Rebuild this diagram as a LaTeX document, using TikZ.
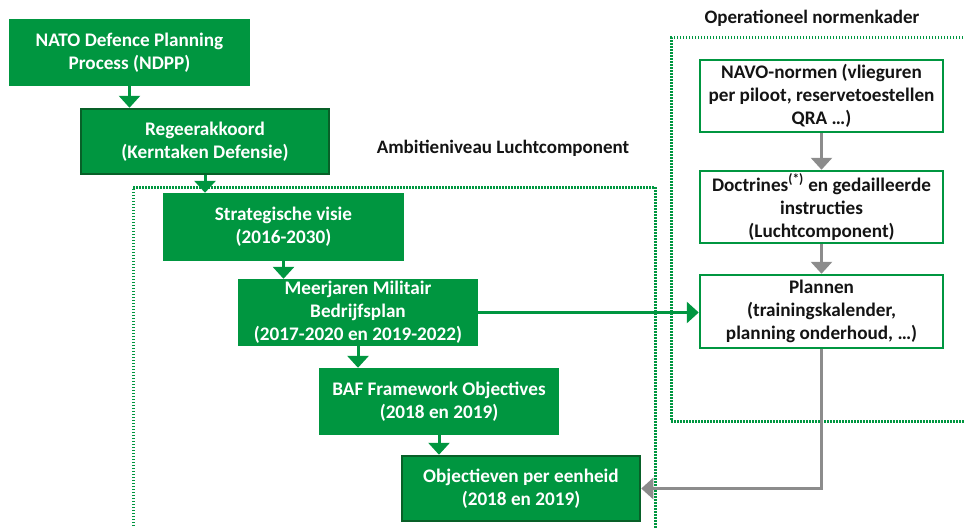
\documentclass[tikz,border=0pt]{standalone}
\usepackage{fontspec}
\setmainfont{Carlito}
\usetikzlibrary{arrows.meta}
\definecolor{cgreen}{RGB}{0,150,64}
\definecolor{cdark}{RGB}{8,96,40}
\definecolor{cgray}{RGB}{140,140,140}
\definecolor{ctext}{RGB}{20,20,20}
\tikzset{
  gbox/.style={rectangle, fill=cgreen, text=white, align=center, inner sep=0pt,
    font=\bfseries\fontsize{19.2}{23}\selectfont},
  dbox/.style={gbox, draw=cdark, line width=2.5pt},
  wbox/.style={rectangle, fill=white, draw=cgreen, line width=2.5pt, text=ctext, align=center, inner sep=0pt,
    font=\bfseries\fontsize{19.2}{23}\selectfont},
  garrow/.style={draw=cgreen, line width=3pt, -{Triangle[width=21pt,length=12pt]}},
  grarrow/.style={draw=cgray, line width=3pt, -{Triangle[width=21pt,length=12pt]}},
  frame/.style={draw=cgreen, line width=3pt, dash pattern=on 1.5pt off 1.5pt},
  lbl/.style={text=ctext, font=\bfseries\fontsize{19}{22}\selectfont, inner sep=0pt}
}
\begin{document}
\begin{tikzpicture}[x=1pt,y=-1pt]
\useasboundingbox (0,0) rectangle (965,527);
% frames
\draw[frame] (133,535) -- (133,187) -- (655,187) -- (655,535);
\draw[frame] (975,38) -- (671,38) -- (671,421) -- (975,421);
\node[lbl] (lamb) at (503,148) {Ambitieniveau Luchtcomponent};
\node[lbl] (lop) at (812,18) {Operationeel normenkader};
% green chain
\node[gbox, minimum width=241pt, minimum height=67pt] (nato) at (129.5,52.5) {NATO Defence Planning\\Process (NDPP)};
\node[dbox, minimum width=248pt, minimum height=65pt] (reg) at (205,141.5) {Regeerakkoord\\(Kerntaken Defensie)};
\node[gbox, minimum width=241pt, minimum height=68pt] (strat) at (283.5,227) {Strategische visie\\(2016-2030)};
\node[gbox, minimum width=240pt, minimum height=67pt] (meer) at (358,312.5) {Meerjaren Militair\\Bedrijfsplan\\(2017-2020 en 2019-2022)};
\node[gbox, minimum width=240pt, minimum height=67pt] (baf) at (439,401.5) {BAF Framework Objectives\\(2018 en 2019)};
\node[dbox, minimum width=238pt, minimum height=65pt] (obj) at (521,488.5) {Objectieven per eenheid\\(2018 en 2019)};
% white boxes
\node[wbox, minimum width=243pt, minimum height=72pt] (navo) at (821.5,96) {NAVO-normen (vlieguren\\per piloot, reservetoestellen\\QRA \dots)};
\node[wbox, minimum width=243pt, minimum height=72pt] (doc) at (821.5,207) {Doctrines\textsuperscript{(*)} en gedailleerde\\instructies\\(Luchtcomponent)};
\node[wbox, minimum width=243pt, minimum height=73pt] (plan) at (821.5,311.5) {Plannen\\(trainingskalender,\\planning onderhoud, \dots)};
% arrows
\draw[garrow] (nato.south) -- (nato.south |- reg.north);
\draw[garrow] (reg.south) -- (reg.south |- strat.north);
\draw[garrow] (strat.south) -- (strat.south |- meer.north);
\draw[garrow] (meer.south) -- (meer.south |- baf.north);
\draw[garrow] (baf.south) -- (baf.south |- obj.north);
\draw[garrow] (meer.east) -- (meer.east -| plan.west);
\draw[grarrow] (navo.south) -- (doc.north);
\draw[grarrow] (doc.south) -- (plan.north);
\draw[grarrow] (plan.south) |- (obj.east);
\end{tikzpicture}
\end{document}
